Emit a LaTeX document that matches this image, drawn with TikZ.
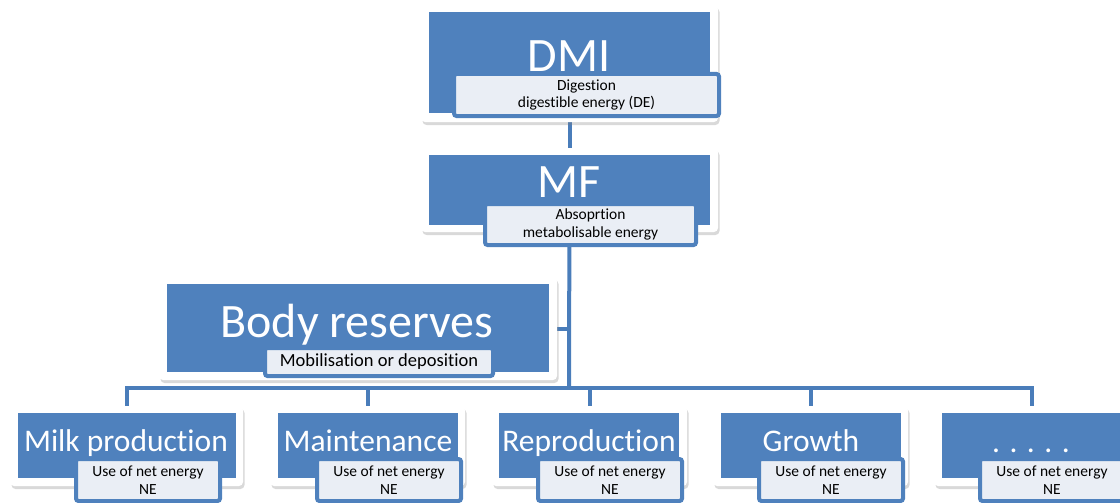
\documentclass[tikz,border=0pt]{standalone}
\usepackage{fontspec}
\setmainfont{Carlito}[Ligatures=NoCommon]
\usetikzlibrary{shadows,backgrounds}
\definecolor{headblue}{HTML}{4F81BD}
\definecolor{linkblue}{HTML}{4A7DBA}
\definecolor{subfill}{HTML}{EAEEF5}

\begin{document}
\begin{tikzpicture}[x=1pt, y=-1pt,
    card/.style = {fill=white, rounded corners=4pt, inner sep=0pt, drop shadow={shadow xshift=1.5pt, shadow yshift=-3pt, opacity=0.3}},
    head/.style = {fill=headblue, inner sep=0pt},
    big/.style = {text=white, font=\fontsize{48}{48}\selectfont, anchor=base, inner sep=0pt},
    mid/.style = {text=white, font=\fontsize{31.5}{31.5}\selectfont, anchor=base, inner sep=0pt},
    sub/.style = {draw=headblue, line width=4pt, fill=subfill, rounded corners=2.5pt, inner sep=0pt, align=center, font=\fontsize{15.5}{17.5}\selectfont},
    subrow/.style = {sub, minimum width=144pt, minimum height=42pt},
    link/.style = {draw=linkblue, line width=4pt}]
    \useasboundingbox (0,0) rectangle (1120,503);

    % top of the chain
    \node[card, minimum width=297pt, minimum height=117pt] (dmi) at (569.5,63.5) {};
    \node[head, minimum width=281pt, minimum height=101pt] (dmibox) at (569.5,62.5) {};
    \node[big] (dmilabel) at (569,72) {DMI};
    \node[sub, minimum width=265pt, minimum height=42pt] (dmisub) at (586.5,95) {Digestion\\digestible energy (DE)};

    \node[card, minimum width=297pt, minimum height=84pt] (mf) at (569.5,190) {};
    \node[head, minimum width=281pt, minimum height=70pt] (mfbox) at (569.5,190) {};
    \node[big] (mflabel) at (569,197) {MF};
    \node[sub, minimum width=211pt, minimum height=41pt] (mfsub) at (590.5,224.5) {Absoprtion\\metabolisable energy};

    \node[card, minimum width=398pt, minimum height=103pt] (body) at (358,328.5) {};
    \node[head, minimum width=382pt, minimum height=88pt] (bodybox) at (358,328) {};
    \node[big] (bodylabel) at (357,337) {Body reserves};
    \node[sub, minimum width=228pt, minimum height=28pt, font=\fontsize{18.5}{20}\selectfont] (bodysub) at (379,362) {Mobilisation or deposition};

    \coordinate (fork) at (569,388);

    % uses of net energy
    \node[card, minimum width=233pt, minimum height=80pt] (milk) at (126.5,446) {};
    \node[head, minimum width=218pt, minimum height=65pt] (milkbox) at (127,445.5) {};
    \node[mid] (milklabel) at (126,451) {Milk production};
    \node[subrow] (milksub) at (148,480) {Use of net energy\\NE};

    \node[card, minimum width=195pt, minimum height=80pt] (maint) at (367.5,446) {};
    \node[head, minimum width=180pt, minimum height=65pt] (maintbox) at (368,445.5) {};
    \node[mid] (maintlabel) at (368,451) {Maintenance};
    \node[subrow] (maintsub) at (389,480) {Use of net energy\\NE};

    \node[card, minimum width=195pt, minimum height=80pt] (repro) at (589.5,446) {};
    \node[head, minimum width=180pt, minimum height=65pt] (reprobox) at (589,445.5) {};
    \node[mid] (reprolabel) at (589,451) {Reproduction};
    \node[subrow] (reprosub) at (610,480) {Use of net energy\\NE};

    \node[card, minimum width=195pt, minimum height=80pt] (growth) at (810.5,446) {};
    \node[head, minimum width=180pt, minimum height=65pt] (growthbox) at (811,445.5) {};
    \node[mid] (growthlabel) at (811,451) {Growth};
    \node[subrow] (growthsub) at (831,480) {Use of net energy\\NE};

    \node[card, minimum width=195pt, minimum height=80pt] (other) at (1031.5,446) {};
    \node[head, minimum width=180pt, minimum height=65pt] (otherbox) at (1032,445.5) {};
    \node[mid] (otherlabel) at (1031,452) {. . . . .};
    \node[subrow] (othersub) at (1052,480) {Use of net energy\\NE};

    % connectors behind the cards
    \begin{pgfonlayer}{background}
        \draw[link] (dmi) -- (mf);
        \draw[link] (mf) -- (fork);
        \draw[link] (body) -- (body -| fork);
        \draw[link] (milk) -- (milk |- fork) -- (other |- fork) -- (other);
        \draw[link] (maint) -- (maint |- fork);
        \draw[link] (repro) -- (repro |- fork);
        \draw[link] (growth) -- (growth |- fork);
    \end{pgfonlayer}
\end{tikzpicture}
\end{document}
